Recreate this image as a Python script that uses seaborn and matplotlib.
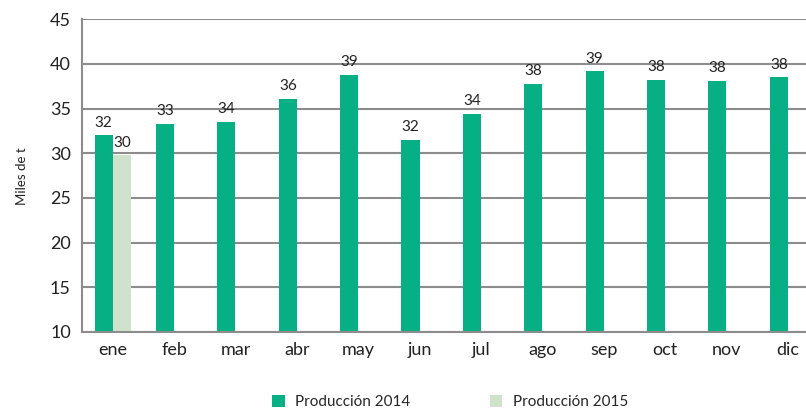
import pandas as pd
import numpy as np
import matplotlib
matplotlib.use("Agg")
import matplotlib.pyplot as plt
import seaborn as sns

meses = ['ene', 'feb', 'mar', 'abr', 'may', 'jun', 'jul', 'ago', 'sep', 'oct', 'nov', 'dic']
prod_2014 = [32.0, 33.3, 33.5, 36.1, 38.8, 31.5, 34.4, 37.8, 39.2, 38.2, 38.1, 38.5]
prod_2015 = [29.8]
series = ['Producción 2014', 'Producción 2015']

rows = [(m, series[0], v) for m, v in zip(meses, prod_2014)]
rows += [(m, series[1], v) for m, v in zip(meses, prod_2015)]
df = pd.DataFrame(rows, columns=['mes', 'serie', 'valor'])

sns.set_style("white")
plt.rcParams['font.family'] = ['Lato', 'DejaVu Sans']

fig = plt.figure(figsize=(8.06, 4.08), dpi=100)
ax = fig.add_axes([82/806, 76/408, 736.5/806, 312.7/408])

sns.barplot(data=df, x='mes', y='valor', hue='serie', order=meses, hue_order=series,
            palette=['#06b084', '#cfe2cb'], width=0.59, ax=ax, saturation=1,
            linewidth=0, errorbar=None)

for c in ax.containers:
    ax.bar_label(c, fmt='%.0f', padding=4, fontsize=11, color='#222222')

ax.set_ylim(10, 45)
ax.set_yticks(range(10, 46, 5))
ax.set_xlim(-0.5, 11.5)
ax.set_xticks(np.arange(-0.5, 12, 1), minor=False)
ax.set_xticklabels([])
ax.set_xticks(range(12), minor=True)
ax.set_xticklabels(meses, minor=True)
ax.tick_params(axis='x', which='major', length=5, color='#8c8c8c', width=1.2, direction='out')
ax.tick_params(axis='x', which='minor', length=0, labelsize=13, pad=7, labelcolor='#222222')
ax.tick_params(axis='y', length=5, color='#8c8c8c', width=1.2, labelsize=13,
               direction='out', labelcolor='#222222', pad=3)
ax.yaxis.grid(True, color='#8c8c8c', linewidth=1.5)
ax.set_axisbelow(True)
for s in ['top', 'right']:
    ax.spines[s].set_visible(False)
for s in ['left', 'bottom']:
    ax.spines[s].set_color('#8c8c8c')
    ax.spines[s].set_linewidth(1.5)

ax.set_xlabel('')
ax.set_ylabel('Miles de t', fontsize=9.5, labelpad=16, color='#222222')

ax.legend(loc='center', bbox_to_anchor=(0.5, -0.224), ncol=2, frameon=False,
          handlelength=0.8, handleheight=0.8, columnspacing=5.2, fontsize=11,
          handletextpad=0.7)

fig.savefig('out.png', dpi=100)
